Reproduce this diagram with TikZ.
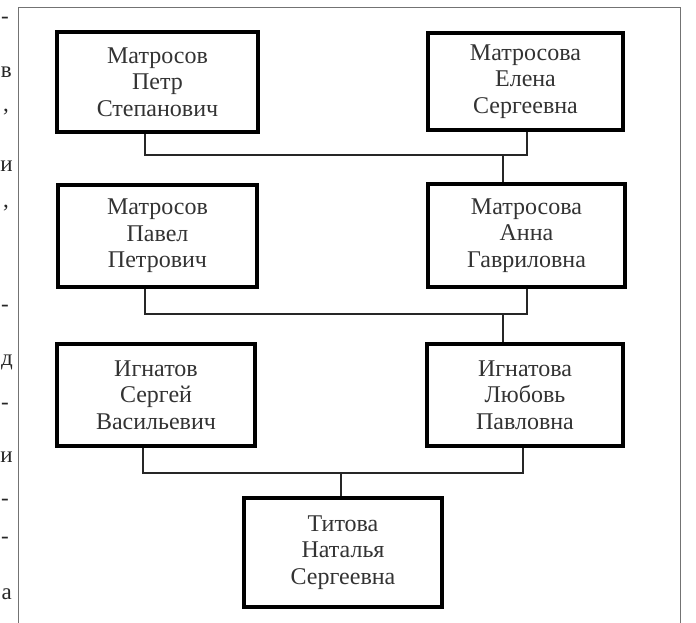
\documentclass[tikz,border=0pt]{standalone}
\usepackage{fontspec}
\setmainfont{Liberation Serif}
\begin{document}
\begin{tikzpicture}[x=1pt,y=-1pt,
  person/.style={draw=black, line width=3.5pt, fill=white, align=center,
    text=black!80, inner sep=0pt,
    font=\fontsize{24}{26.5}\selectfont},
  link/.style={draw=black!85, line width=1.3pt},
  frame/.style={draw=black!55, line width=0.9pt},
  margin/.style={anchor=east, text=black!85, inner sep=0pt,
    font=\fontsize{23}{26}\selectfont}]
\useasboundingbox (0,0) rectangle (696,622);
\clip (0,0) rectangle (696,622);
\fill[white] (0,0) rectangle (696,622);
% frame
\draw[frame] (18,640) -- (18,7) -- (680,7) -- (680,640);
% margin fragments of page text
\node[margin] (m1) at (9,20) {-};
\node[margin] (m2) at (12,72) {в};
\node[margin] (m3) at (9,112) {,};
\node[margin] (m4) at (13,166) {и};
\node[margin] (m5) at (9,208) {,};
\node[margin] (m6) at (9,308) {-};
\node[margin] (m7) at (13,362) {д};
\node[margin] (m8) at (9,406) {-};
\node[margin] (m9) at (13,457) {и};
\node[margin] (m10) at (9,502) {-};
\node[margin] (m11) at (9,540) {-};
\node[margin] (m12) at (12,594) {а};
% persons
\node[person, minimum width=201pt, minimum height=100pt] (b1) at (157.5,82) {Матросов\\Петр\\Степанович};
\node[person, minimum width=195pt, minimum height=97pt] (b2) at (525.5,81.5) {Матросова\\Елена\\Сергеевна};
\node[person, minimum width=199pt, minimum height=102pt] (b3) at (157.5,236) {Матросов\\Павел\\Петрович};
\node[person, minimum width=197pt, minimum height=103pt] (b4) at (526.5,235.5) {Матросова\\Анна\\Гавриловна};
\node[person, minimum width=198pt, minimum height=102pt] (b5) at (156,395) {Игнатов\\Сергей\\Васильевич};
\node[person, minimum width=196pt, minimum height=102pt] (b6) at (525,395) {Игнатова\\Любовь\\Павловна};
\node[person, minimum width=198pt, minimum height=109pt] (b7) at (343,552.5) {Титова\\Наталья\\Сергеевна};
% junctions
\coordinate (j1) at (503,155);
\coordinate (j2) at (503,314);
\coordinate (j3) at (341,473);
% connectors
\draw[link] ([xshift=-12.5pt]b1.south) |- (j1) -| ([xshift=1.5pt]b2.south);
\draw[link] (j1) -- (j1 |- b4.north);
\draw[link] ([xshift=-12.5pt]b3.south) |- (j2) -| ([xshift=0.5pt]b4.south);
\draw[link] (j2) -- (j2 |- b6.north);
\draw[link] ([xshift=-13pt]b5.south) |- (j3) -| ([xshift=-2pt]b6.south);
\draw[link] (j3) -- (j3 |- b7.north);
\end{tikzpicture}
\end{document}
